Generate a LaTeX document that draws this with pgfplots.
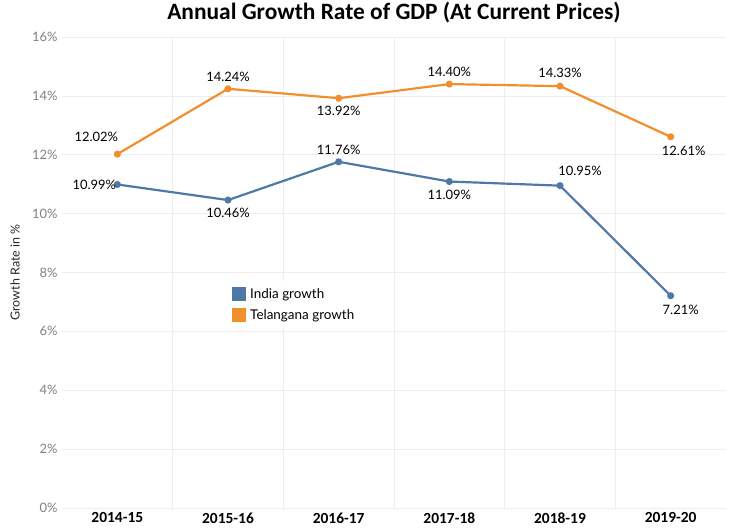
\documentclass[border=0pt]{standalone}
\usepackage{pgfplots}
\pgfplotsset{compat=1.18}
\usepackage{fontspec}
\setmainfont{Lato}
\newfontfamily\titlefont{Carlito}
\definecolor{indiablue}{HTML}{4E79A7}
\definecolor{telorange}{HTML}{F28E2B}
\definecolor{gridgray}{HTML}{EEEEEE}
\definecolor{tickgray}{HTML}{808080}
\begin{document}
\begin{tikzpicture}[x=1bp,y=1bp]
\path[use as bounding box] (0,0) rectangle (734,532);
\begin{axis}[
  at={(62bp,24bp)}, anchor=south west,
  scale only axis, width=664bp, height=471bp,
  xmin=-0.5, xmax=5.5, ymin=0, ymax=16,
  xtick={0,1,2,3,4,5},
  xticklabels={2014-15,2015-16,2016-17,2017-18,2018-19,2019-20},
  extra x ticks={0.5,1.5,2.5,3.5,4.5},
  extra x tick labels={},
  extra x tick style={grid=major, major grid style={gridgray, line width=0.6pt}, major tick length=0pt},
  ytick={0,2,4,6,8,10,12,14,16},
  yticklabel={\pgfmathprintnumber{\tick}\%},
  /pgf/number format/assume math mode=true,
  ymajorgrids, major grid style={gridgray, line width=0.6pt},
  major tick length=0pt,
  axis line style={draw=none},
  x tick label style={font=\titlefont\bfseries\fontsize{15.5}{15.5}\selectfont, text=black, yshift=-1bp},
  y tick label style={font=\fontsize{13}{13}\selectfont, text=tickgray, xshift=-1bp},
  ylabel={Growth Rate in \%},
  every axis y label/.style={at={(axis description cs:-0.0708,0.5)}, rotate=90, anchor=center,
    font=\fontsize{12.5}{12.5}\selectfont, text=black!85},
  title={Annual Growth Rate of GDP (At Current Prices)},
  title style={font=\titlefont\bfseries\fontsize{23.5}{23.5}\selectfont, at={(0.5,1)}, anchor=south, yshift=4bp},
  legend style={at={(0.25,0.482)}, anchor=north west, draw=none, fill=white,
    font=\fontsize{13.5}{14}\selectfont, row sep=6bp, inner xsep=4bp, inner ysep=5bp,
    nodes={inner xsep=4bp}},
  legend cell align=left,
  legend image code/.code={\fill[#1, draw=none] (0bp,-7bp) rectangle (14bp,7bp);},
  point meta=y,
  nodes near coords={\pgfmathprintnumber[fixed,precision=2,fixed zerofill]{\pgfplotspointmeta}\%},
  every node near coord/.append style={font=\fontsize{13}{13}\selectfont, text=black},
  visualization depends on={value \thisrow{xs} \as \xs},
  visualization depends on={value \thisrow{ys} \as \ys},
  every node near coord/.append style={anchor=center, xshift=\xs bp, yshift=\ys bp},
  clip=false,
]
\addplot[indiablue, line width=2.2pt, mark=*, mark size=2.4pt] table[x=x,y=y] {
x y xs ys
0 10.99 -23 0
1 10.46 0 -13
2 11.76 0 12
3 11.09 0 -13
4 10.95 20 15
5 7.21 10 -14
};
\addlegendentry{India growth}
\addplot[telorange, line width=2.2pt, mark=*, mark size=2.4pt] table[x=x,y=y] {
x y xs ys
0 12.02 -21 17
1 14.24 0 12
2 13.92 0 -13
3 14.40 0 12
4 14.33 0 13
5 12.61 13 -14
};
\addlegendentry{Telangana growth}
\end{axis}
\end{tikzpicture}
\end{document}
